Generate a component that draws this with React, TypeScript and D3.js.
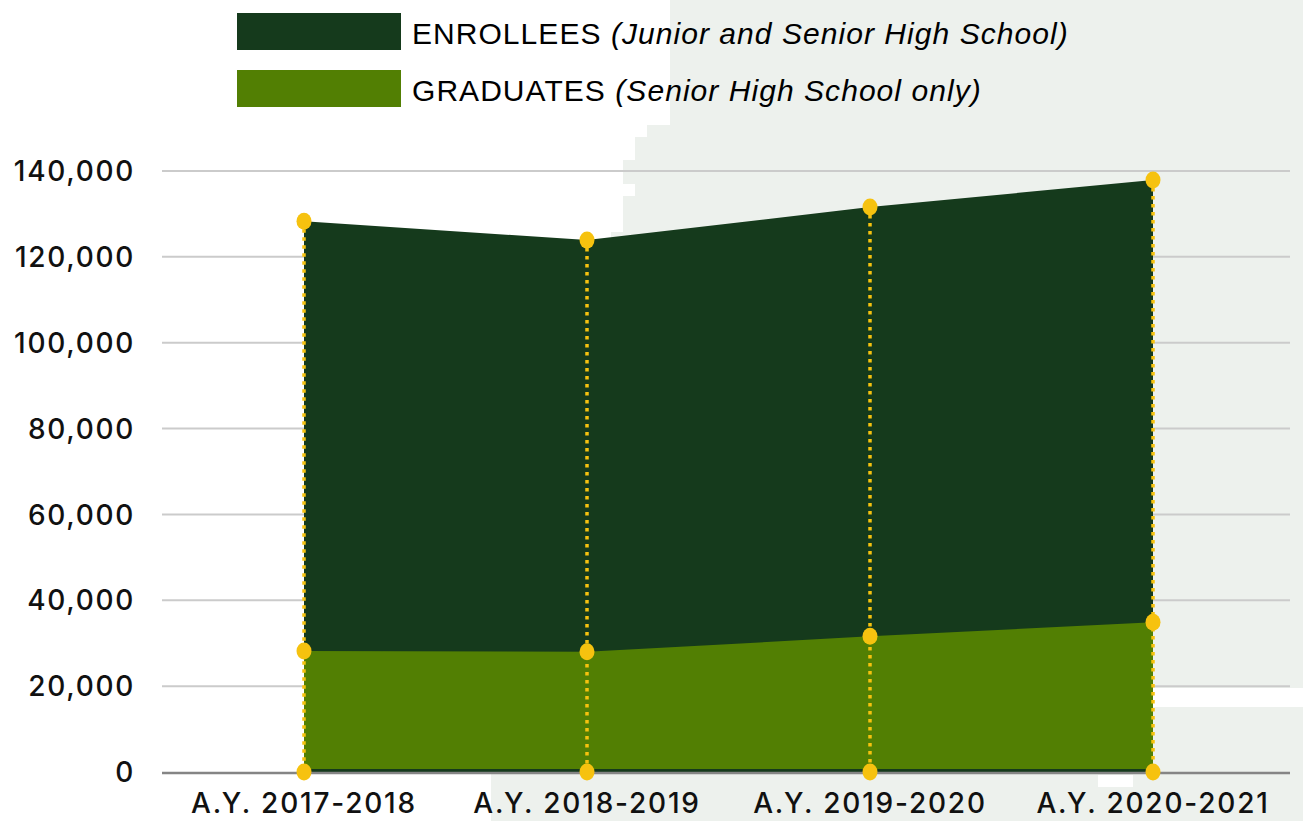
import { useEffect, useRef } from "react";
import * as d3 from "d3";

const categories = ["A.Y. 2017-2018", "A.Y. 2018-2019", "A.Y. 2019-2020", "A.Y. 2020-2021"];
const enrollees = [128300, 123900, 131600, 137900];
const graduates = [28200, 28000, 31600, 34900];
const yTicks = [0, 20000, 40000, 60000, 80000, 100000, 120000, 140000];

const legendItems = [
  { label: "ENROLLEES", note: "(Junior and Senior High School)", color: "#153a1c" },
  { label: "GRADUATES", note: "(Senior High School only)", color: "#527f03" },
];

const W = 1303;
const H = 821;

function renderChart(element: SVGSVGElement) {
  const svg = d3.select(element);
  svg.selectAll("*").remove();

  // light decorative backdrop on the right
  svg
    .append("path")
    .attr(
      "d",
      "M670,0H1303V688H1153V707H1303V821H491V773H611V232H623V196H635V184H623V160H635V137H647V125H670Z"
    )
    .attr("fill", "#edf1ed");
  svg.append("rect").attr("x", 1098).attr("y", 775).attr("width", 35).attr("height", 12).attr("fill", "#fff");

  const x = d3.scalePoint<string>().domain(categories).range([304, 1153]);
  const y = d3.scaleLinear().domain([0, 140000]).range([772, 171]);
  const gridX0 = 162;
  const gridX1 = 1290;

  // gridlines
  svg
    .append("g")
    .selectAll("line")
    .data(yTicks.filter((d) => d > 0))
    .join("line")
    .attr("x1", gridX0)
    .attr("x2", gridX1)
    .attr("y1", (d) => y(d))
    .attr("y2", (d) => y(d))
    .attr("stroke", "#cbcbcb")
    .attr("stroke-width", 2);

  // y tick labels
  svg
    .append("g")
    .selectAll("text")
    .data(yTicks)
    .join("text")
    .attr("x", 135)
    .attr("y", (d) => y(d))
    .attr("dy", "0.36em")
    .attr("text-anchor", "end")
    .attr("font-family", "Inter, 'Noto Sans', sans-serif")
    .attr("font-size", 28)
    .attr("font-weight", 500)
    .attr("letter-spacing", 1.7)
    .attr("fill", "#111")
    .text((d) => d3.format(",")(d));

  const rows = categories.map((c, i) => ({ c, e: enrollees[i], g: graduates[i] }));

  // enrollees area
  const areaE = d3
    .area<(typeof rows)[number]>()
    .x((d) => x(d.c)!)
    .y0(y(0))
    .y1((d) => y(d.e));
  svg.append("path").datum(rows).attr("d", areaE).attr("fill", "#153a1c");

  // graduates area
  const areaG = d3
    .area<(typeof rows)[number]>()
    .x((d) => x(d.c)!)
    .y0(y(0) - 3)
    .y1((d) => y(d.g));
  svg.append("path").datum(rows).attr("d", areaG).attr("fill", "#527f03");

  // baseline
  svg
    .append("line")
    .attr("x1", gridX0)
    .attr("x2", gridX1)
    .attr("y1", y(0) + 1)
    .attr("y2", y(0) + 1)
    .attr("stroke", "#858585")
    .attr("stroke-width", 2.5);

  // dotted drop lines
  svg
    .append("g")
    .selectAll("line")
    .data(rows)
    .join("line")
    .attr("x1", (d) => x(d.c)!)
    .attr("x2", (d) => x(d.c)!)
    .attr("y1", (d) => y(d.e))
    .attr("y2", y(0))
    .attr("stroke", "#f6c20f")
    .attr("stroke-width", 3.5)
    .attr("stroke-dasharray", "3.5 4.5");

  // markers
  const pts = rows.flatMap((d) => [
    { c: d.c, v: d.e },
    { c: d.c, v: d.g },
    { c: d.c, v: 0 },
  ]);
  svg
    .append("g")
    .selectAll("ellipse")
    .data(pts)
    .join("ellipse")
    .attr("cx", (d) => x(d.c)!)
    .attr("cy", (d) => y(d.v))
    .attr("rx", 7.5)
    .attr("ry", 8.5)
    .attr("fill", "#f6c20f");

  // x labels
  svg
    .append("g")
    .selectAll("text")
    .data(categories)
    .join("text")
    .attr("x", (d) => x(d)!)
    .attr("y", 813)
    .attr("text-anchor", "middle")
    .attr("font-family", "Inter, 'Noto Sans', sans-serif")
    .attr("font-size", 28)
    .attr("font-weight", 500)
    .attr("letter-spacing", 1.8)
    .attr("fill", "#111")
    .text((d) => d);

  // legend
  const legend = svg
    .append("g")
    .selectAll("g")
    .data(legendItems)
    .join("g")
    .attr("transform", (_, i) => `translate(237,${13 + i * 57})`);
  legend.append("rect").attr("width", 164).attr("height", 37).attr("fill", (d) => d.color);
  const lt = legend
    .append("text")
    .attr("x", 175)
    .attr("y", 31)
    .attr("font-family", "'Liberation Sans', Arial, sans-serif")
    .attr("font-size", 30)
    .attr("letter-spacing", 1.05)
    .attr("fill", "#000");
  lt.append("tspan").text((d) => d.label + " ");
  lt.append("tspan").attr("font-style", "italic").text((d) => d.note);
}

export default function App() {
  const ref = useRef<SVGSVGElement>(null);
  useEffect(() => {
    if (ref.current) {
      renderChart(ref.current);
    }
  }, []);
  return (
    <svg
      ref={ref}
      width={W}
      height={H}
      style={{ position: "absolute", left: 0, top: 0, background: "#fff" }}
    ></svg>
  );
}
